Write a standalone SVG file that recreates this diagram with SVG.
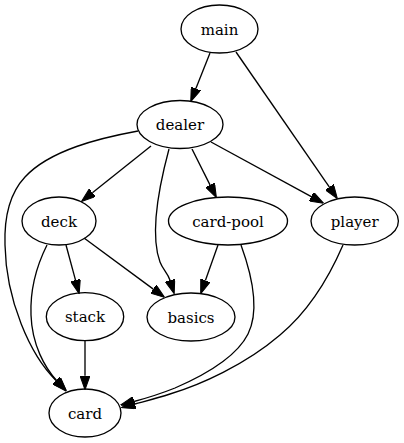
<svg xmlns="http://www.w3.org/2000/svg" width="404" height="443" viewBox="0 0 404 443">
<style>
.node ellipse{fill:none;stroke:#000;stroke-width:1.33}
.node text{font-size:15px;text-anchor:middle;fill:#000}
.edge{fill:none;stroke:#000;stroke-width:1.33;marker-end:url(#arr)}
</style>
<defs>
<marker id="arr" markerUnits="userSpaceOnUse" markerWidth="14" markerHeight="10" viewBox="0 0 13.3 9.4" refX="0" refY="4.7" orient="auto">
<path d="M0,0 L13.3,4.7 L0,9.4 z" fill="#000" stroke="#000" stroke-width="1"/>
</marker>
</defs>
<rect width="404" height="443" fill="#fff"/>
<g id="connectors">
<path class="edge" d="M210,53 L195.9,88.6"/>
<path class="edge" d="M236,52 L329.4,187.1"/>
<path class="edge" d="M151,146 L92.4,192.7"/>
<path class="edge" d="M192,149 L210.1,185.1"/>
<path class="edge" d="M211,142 L311.3,196.6"/>
<path class="edge" d="M169,149 C158,190 150,235 160,262 C163,270 167.5,272.3 170,280.3"/>
<path class="edge" d="M138,131 C100,138 50,150 25,177 C10,193 4,215 5,245 C6,300 30,355 56,380.4"/>
<path class="edge" d="M47,245 C37,265 30,290 31,315 C32,345 45,368 57,381"/>
<path class="edge" d="M66,245 L75.5,280.2"/>
<path class="edge" d="M84,238 L153.3,289.1"/>
<path class="edge" d="M218,245 L205.4,280.5"/>
<path class="edge" d="M241,245 C253,278 259,312 248,334 C236,358 205,375 175,388 C160,394 147,398 134,401.5"/>
<path class="edge" d="M343,245 C330,275 310,310 280,335 C245,365 200,385 170,394 C158,398 146,401 135,404"/>
<path class="edge" d="M85,341 L85,375.7"/>
</g>
<g font-family="'DejaVu Serif', serif">
<g id="main" class="node"><ellipse cx="219.5" cy="29" rx="38.5" ry="24"/><text x="219.5" y="34.5">main</text></g>
<g id="dealer" class="node"><ellipse cx="180" cy="124.5" rx="43" ry="24"/><text x="180" y="130">dealer</text></g>
<g id="deck" class="node"><ellipse cx="59" cy="221" rx="37" ry="24"/><text x="59" y="226.5">deck</text></g>
<g id="card-pool" class="node"><ellipse cx="228" cy="221" rx="59.5" ry="24"/><text x="228" y="226.5">card-pool</text></g>
<g id="player" class="node"><ellipse cx="354.7" cy="221" rx="43.7" ry="24"/><text x="354.7" y="226.5">player</text></g>
<g id="stack" class="node"><ellipse cx="85" cy="316.7" rx="38.7" ry="24"/><text x="85" y="322.2">stack</text></g>
<g id="basics" class="node"><ellipse cx="191" cy="317" rx="44" ry="24"/><text x="191" y="322.5">basics</text></g>
<g id="card" class="node"><ellipse cx="85" cy="413" rx="36" ry="24"/><text x="85" y="418.5">card</text></g>
</g>
</svg>
